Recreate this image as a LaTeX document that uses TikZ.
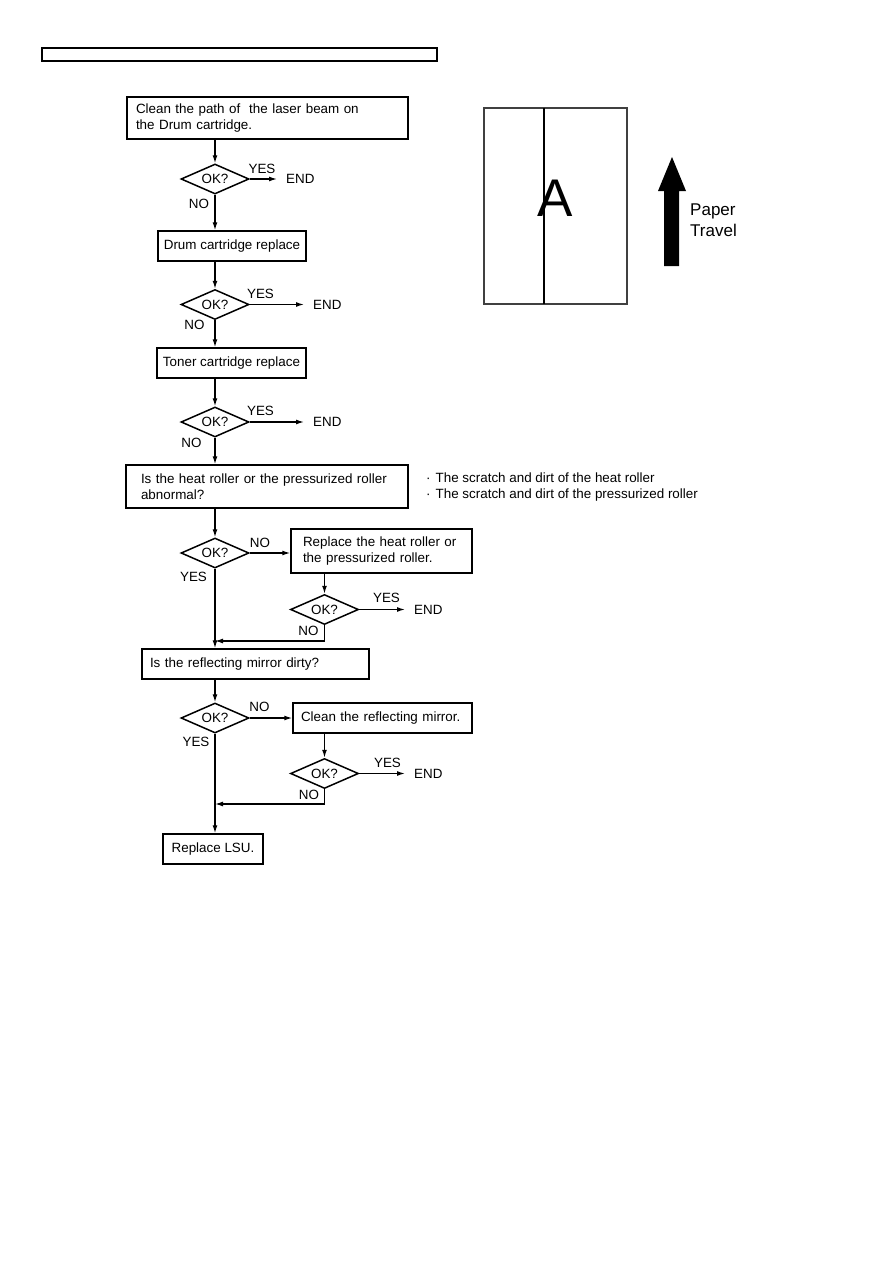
\documentclass[tikz,border=0pt]{standalone}
\usepackage{fontspec}
\setmainfont{Liberation Sans}
\usetikzlibrary{shapes.geometric,arrows.meta}
\begin{document}
\begin{tikzpicture}[x=1pt,y=-1pt,declare function={mx=215; rx=324.5;},
	every node/.style={font=\fontsize{13.4}{16}\selectfont},
	flow/.style={line width=1.3pt,-{Latex[length=8pt,width=5pt]}},
	procbox/.style={draw,line width=1.5pt,minimum height=30pt,inner sep=0pt},
	okbox/.style={draw,diamond,aspect=2.3,line width=1.5pt,minimum width=68pt,minimum height=30pt,inner sep=0pt},
	endtxt/.style={anchor=west,inner xsep=9pt,inner ysep=0pt},
	anstxt/.style={inner sep=0pt}]
	\useasboundingbox (0,0) rectangle (893,1263);
	\draw[line width=1.3pt] (42,48) rectangle (437,61);
	
	\node[procbox,minimum width=281pt,minimum height=42pt,text width=263pt,align=left] (cleanpath) at (267.5,118) {Clean the path of\ \ the laser beam on\\the Drum cartridge.};
	\node[procbox,minimum width=148pt] (drum) at (232,246) {Drum cartridge replace};
	\node[procbox,minimum width=149pt] (toner) at (231.5,363) {Toner cartridge replace};
	\node[procbox,minimum width=282pt,minimum height=43pt,text width=252pt,align=left] (roller) at (267,486.5) {Is the heat roller or the pressurized roller\\abnormal?};
	\node[procbox,minimum width=181pt,minimum height=44pt,text width=157pt,align=left] (newroller) at (381.5,551) {Replace the heat roller or\\the pressurized roller.};
	\node[procbox,minimum width=227pt,text width=211pt,align=left] (mirror) at (255.5,664) {Is the reflecting mirror dirty?};
	\node[procbox,minimum width=179pt,text width=163pt,align=left] (cleanmirror) at (382.5,718) {Clean the reflecting mirror.};
	\node[procbox,minimum width=100pt] (lsu) at (213,849) {Replace LSU.};
	
	\foreach \n/\x/\y in {ok1/mx/179,ok2/mx/304.5,ok3/mx/422,ok4/mx/553,ok5/rx/609.5,ok6/mx/718,ok7/rx/773.5}{
		\node[okbox] (\n) at (\x,\y) {OK?};
	}
	\foreach \n/\x/\y in {end1/277/179,end2/304/304.5,end3/304/422,end5/405/609.5,end7/405/773.5}{
		\node[endtxt] (\n) at (\x,\y) {END};
	}
	\foreach \n/\x/\y/\t in {yes1/262/169/YES,yes2/260.5/294/YES,yes3/260.5/411/YES,yes4/193.5/577/YES,yes5/386.5/598/YES,yes6/196/742/YES,yes7/387.5/763/YES,
		no1/199/204/NO,no2/194.5/325/NO,no3/191.5/443/NO,no4/260/543/NO,no5/308.5/631/NO,no6/259.5/707/NO,no7/309/795/NO}{
		\node[anstxt] (\n) at (\x,\y) {\t};
	}
	\coordinate (join5) at (mx,641);
	\coordinate (join7) at (mx,804);
	
	\draw[flow] (ok1|-cleanpath.south) -- (ok1.north);
	\draw[flow] (ok1.south) -- (ok1|-drum.north);
	\draw[flow] (ok2|-drum.south) -- (ok2.north);
	\draw[flow] (ok2.south) -- (ok2|-toner.north);
	\draw[flow] (ok3|-toner.south) -- (ok3.north);
	\draw[flow] (ok3.south) -- (ok3|-roller.north);
	\draw[flow] (ok4|-roller.south) -- (ok4.north);
	\draw[flow] (ok4.east) -- (ok4.east-|newroller.west);
	\draw[flow] (ok5|-newroller.south) -- (ok5.north);
	\draw[flow] (ok5.south) |- (join5);
	\draw[flow] (ok4.south) -- (ok4|-mirror.north);
	\draw[flow] (ok6|-mirror.south) -- (ok6.north);
	\draw[flow] (ok6.east) -- (ok6.east-|cleanmirror.west);
	\draw[flow] (ok7|-cleanmirror.south) -- (ok7.north);
	\draw[flow] (ok7.south) |- (join7);
	\draw[flow] (ok6.south) -- (ok6|-lsu.north);
	\foreach \n in {1,2,3,5,7}{
		\draw[flow] (ok\n.east) -- (end\n.west);
	}
	
	\node[anchor=base west,inner sep=0pt] (note1) at (426,482) {·\hspace{5pt}The scratch and dirt of the heat roller};
	\node[anchor=base west,inner sep=0pt] (note2) at (426,498) {·\hspace{5pt}The scratch and dirt of the pressurized roller};
	
	\draw[line width=1.1pt,black!75] (484,108) rectangle (627,304);
	\draw[line width=1.1pt] (544,108) -- (544,304);
	\node[inner sep=0pt,font=\fontsize{53}{60}\selectfont] (letter) at (555,198) {A};
	\fill (664,266) -- (664,191) -- (658,191) -- (672,157) -- (686,191) -- (679,191) -- (679,266) -- cycle;
	\node[anchor=base west,inner sep=0pt,font=\fontsize{17}{21}\selectfont] (paper) at (690,215) {Paper};
	\node[anchor=base west,inner sep=0pt,font=\fontsize{17}{21}\selectfont] (travel) at (690,236) {Travel};
\end{tikzpicture}
\end{document}
